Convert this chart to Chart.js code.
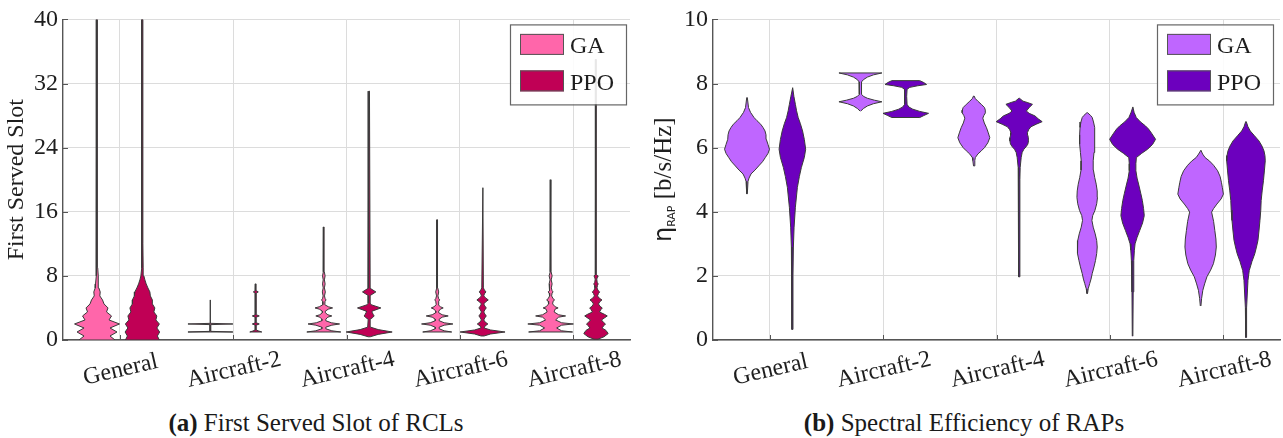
<!DOCTYPE html>
<html>
<head>
<meta charset="utf-8">
<script src="https://cdn.jsdelivr.net/npm/chart.js@4/dist/chart.umd.min.js"></script>
<style>
  html, body { margin: 0; padding: 0; background: #fff; }
  body { width: 1283px; height: 438px; position: relative; overflow: hidden; font-family: "Liberation Serif", serif; }
  .panel { position: absolute; top: 0; height: 400px; }
  #p1 { left: 0; width: 641px; }
  #p2 { left: 641px; width: 642px; }
  .cap { position: absolute; top: 408px; font-size: 25px; line-height: 30px; color: #1a1a1a; white-space: nowrap; transform: translateX(-50%); }
  .cap b { font-weight: bold; }
</style>
</head>
<body>
<div class="panel" id="p1"><canvas id="c1" width="641" height="400"></canvas></div>
<div class="panel" id="p2"><canvas id="c2" width="642" height="400"></canvas></div>
<div class="cap" style="left:316px"><b>(a)</b> First Served Slot of RCLs</div>
<div class="cap" style="left:964px"><b>(b)</b> Spectral Efficiency of RAPs</div>

<script>
// ---- data -----------------------------------------------------------------
const categories = ['General', 'Aircraft-2', 'Aircraft-4', 'Aircraft-6', 'Aircraft-8'];
const seriesNames = ['GA', 'PPO'];
const slotTicks = [0, 8, 16, 24, 32, 40];
const effTicks = [0, 2, 4, 6, 8, 10];

// First served slot: violin profiles as [slot, kernel density (scaled)]
const slotGaGeneral = [[0,18],[0.5,13],[1,20],[1.5,13],[2,22.5],[2.5,12],[3,14.5],[3.5,9.5],[4,11],[4.5,7],[5,5.5],[5.5,2.8],[6,3.2],[6.5,1.8],[7,1.5],[8,1],[9,0.7],[10,0.5],[40,0.3]];
const slotGaAc2 = [[1,22.5],[1.08,0.4],[1.92,0.4],[2,22.5],[2.08,0.4],[5,0.3]];
const slotGaAc4 = [[1,17],[1.15,8],[1.4,2],[1.6,2],[1.85,8],[2,15.8],[2.15,7.5],[2.4,2],[2.6,2],[2.85,4],[3,8],[3.15,4],[3.4,1.5],[3.6,1.5],[3.85,4.5],[4,8.8],[4.15,4.5],[4.4,1],[4.8,1.2],[5,2.2],[5.2,1.2],[5.5,0.7],[6,1.5],[6.5,0.6],[7,1.3],[7.5,0.6],[8,1.3],[8.5,0.5],[14.1,0.3]];
const slotGaAc6 = [[1,14.5],[1.15,7],[1.4,2],[1.6,2],[1.85,7],[2,15.7],[2.15,7],[2.4,2],[2.6,2],[2.85,5],[3,11],[3.15,5],[3.4,1.5],[3.6,1.5],[3.85,3.2],[4,6],[4.15,3.2],[4.4,1],[4.85,1.5],[5,2.5],[5.15,1.5],[5.5,0.7],[6,1.5],[6.5,0.5],[15,0.3]];
const slotGaAc8 = [[1,22],[1.15,11],[1.5,6],[1.85,11],[2,22.8],[2.15,11],[2.5,5],[2.85,8],[3,15],[3.15,8],[3.5,3.5],[3.85,4.5],[4,7.5],[4.15,4.5],[4.5,2],[4.85,2.5],[5,4],[5.15,2.5],[5.5,1],[5.85,1.5],[6,2.5],[6.15,1.5],[6.5,0.7],[7,1.5],[7.5,0.6],[8,1.5],[8.5,0.5],[20,0.3]];

const slotPpoGeneral = [[0,17],[0.5,15],[1,17.3],[1.5,14.5],[2,17],[2.5,13.5],[3,14.5],[3.5,11.5],[4,12.5],[4.5,10],[5,10],[5.5,8],[6,7.5],[6.5,5.5],[7,3.8],[7.5,2.5],[8,1.5],[9,0.8],[12,0.5],[40,0.5]];
const slotPpoAc2 = [[1,6],[1.12,3],[1.25,0.5],[1.85,0.5],[2,3.5],[2.15,0.5],[2.85,0.5],[3,3.5],[3.15,0.5],[5.85,0.5],[6,2.5],[6.15,0.5],[7,0.3]];
const slotPpoAc4 = [[0.4,1],[0.7,9],[1,23],[1.3,9],[1.6,1.5],[2.6,1],[2.8,3.5],[3,5],[3.2,4],[3.5,2.7],[3.6,3],[4,11.7],[4.4,2],[4.6,1],[5.55,1],[6,6.7],[6.45,1],[31.05,0.3]];
const slotPpoAc6 = [[0.5,1.5],[0.75,8],[1,22.5],[1.25,8],[1.5,1.5],[1.75,2.5],[2,5.3],[2.25,2.5],[2.5,1.2],[2.75,2.2],[3,3.7],[3.25,2.2],[3.5,1.2],[3.75,2.2],[4,3.7],[4.25,2.2],[4.5,1.2],[4.75,3],[5,5.7],[5.25,3],[5.5,1.2],[5.75,1.8],[6,3.3],[6.25,1.8],[6.5,0.8],[19,0.3]];
const slotPpoAc8 = [[0.1,2],[0.4,8],[0.8,12.2],[1.2,10],[1.5,6],[1.8,8],[2,9.5],[2.2,7.5],[2.5,5.5],[2.8,9],[3,11.3],[3.2,8.5],[3.5,3.5],[3.8,5],[4,6.3],[4.2,4],[4.5,2.5],[4.8,4],[5,6],[5.2,3.5],[5.5,1.5],[5.8,2.5],[6,3.7],[6.2,2],[6.5,1],[6.8,1.5],[7,2.2],[7.2,1.2],[7.6,0.8],[7.85,1.5],[8,2],[8.15,0.8],[8.5,0.4],[35,0.3]];

// Spectral efficiency of RAPs: violin profiles as [b/s/Hz, kernel density (scaled)]
const effGaGeneral = [[4.56,0.3],[4.95,1],[5.05,2],[5.18,4],[5.3,8],[5.43,11.7],[5.56,15.5],[5.69,18.3],[5.82,21],[5.95,22.5],[6.1,21],[6.26,19.3],[6.4,19],[6.52,18],[6.63,16],[6.73,13.7],[6.84,10],[6.94,7],[7.1,3.5],[7.25,1.5],[7.56,0.3]];
const effGaAc2 = [[7.14,0.3],[7.22,3],[7.3,7],[7.37,13],[7.43,21.5],[7.48,14],[7.54,7],[7.6,3],[7.66,1.3],[7.85,0.9],[8.05,1.3],[8.12,3],[8.2,7],[8.27,13],[8.33,21.5]];
const effGaAc4 = [[5.43,0.3],[5.6,1],[5.69,1.5],[5.8,4],[5.9,7.5],[6.0,10.7],[6.15,14],[6.31,16],[6.46,14.5],[6.62,12.7],[6.77,10.5],[6.92,9],[7.0,10],[7.09,11.7],[7.17,11.5],[7.25,10.7],[7.35,7.5],[7.45,4],[7.53,1.5],[7.61,0.3]];
const effGaAc6 = [[1.45,0.3],[1.6,1],[1.76,2.5],[1.9,3.8],[2.07,5],[2.28,6.8],[2.48,8.3],[2.7,9.5],[2.9,10],[3.1,9.5],[3.31,8],[3.52,6],[3.73,4.7],[3.88,5.5],[4.04,7.7],[4.25,9.5],[4.45,10.3],[4.65,10],[4.86,9],[5.07,7.5],[5.3,6.2],[5.59,6],[5.85,6.8],[6.11,7.6],[6.4,7.6],[6.63,7.2],[6.8,6.3],[6.94,5],[7.0,3.5],[7.09,0.3]];
const effGaAc8 = [[1.06,0.3],[1.3,1],[1.55,2.2],[1.75,4],[1.97,6.3],[2.18,10],[2.38,12.8],[2.65,14.8],[2.9,15.7],[3.15,15.3],[3.42,14.2],[3.7,13],[3.99,11],[4.1,13],[4.24,16.3],[4.4,20.5],[4.55,22.8],[4.75,21.8],[4.92,20.8],[5.1,19.5],[5.28,17],[5.45,13],[5.58,9],[5.69,4.5],[5.8,2],[5.92,0.3]];

const effPpoGeneral = [[0.33,0.4],[2.0,0.6],[2.9,1],[3.52,1.7],[4.14,3],[4.76,5],[5.1,7],[5.38,9],[5.7,12],[5.95,13.3],[6.25,12],[6.52,10.2],[6.75,8],[6.94,5.8],[7.15,4.2],[7.35,3],[7.6,1.5],[7.87,0.3]];
const effPpoAc2 = [[6.94,14],[7.0,18],[7.07,22.8],[7.13,14],[7.2,7],[7.27,3],[7.35,1.3],[7.6,0.9],[7.82,1.3],[7.88,4],[7.93,12],[7.97,20.8],[8.03,18],[8.09,14]];
const effPpoAc4 = [[1.97,0.3],[4.0,0.6],[5.0,0.8],[5.38,1],[5.69,2],[5.85,3],[5.95,4.7],[6.03,7],[6.11,8.7],[6.21,9.3],[6.31,9.2],[6.39,8.6],[6.47,8.3],[6.56,9.5],[6.65,11.7],[6.73,17],[6.81,23],[6.9,19],[6.99,15.8],[7.07,10],[7.14,7.2],[7.25,10],[7.35,13.3],[7.41,8],[7.45,3.8],[7.54,0.3]];
const effPpoAc6 = [[0.12,0.3],[1.5,0.6],[2.48,1.2],[2.8,1.8],[3.0,2.5],[3.2,4.5],[3.42,7.2],[3.65,10],[3.88,11.7],[4.1,11],[4.35,9.8],[4.56,8.3],[4.8,6.5],[5.05,4.5],[5.28,3.3],[5.5,3.3],[5.69,3.8],[5.82,9],[5.95,15],[6.1,20],[6.26,23],[6.45,19],[6.58,16],[6.68,12.8],[6.8,8],[6.94,3.7],[7.1,1.5],[7.27,0.3]];
const effPpoAc8 = [[0.08,0.3],[1.0,0.6],[1.86,2],[2.17,3.3],[2.45,6],[2.69,8.8],[2.9,10.5],[3.11,12],[3.4,13],[3.73,14],[4.05,14.8],[4.35,15.2],[4.65,16.2],[4.97,17.5],[5.3,18.5],[5.59,19.3],[5.75,19],[5.9,18],[6.05,16],[6.21,13],[6.37,8.5],[6.52,4.3],[6.65,2],[6.81,0.3]];

const slotGa = [slotGaGeneral, slotGaAc2, slotGaAc4, slotGaAc6, slotGaAc8];
const slotPpo = [slotPpoGeneral, slotPpoAc2, slotPpoAc4, slotPpoAc6, slotPpoAc8];
const effGa = [effGaGeneral, effGaAc2, effGaAc4, effGaAc6, effGaAc8];
const effPpo = [effPpoGeneral, effPpoAc2, effPpoAc4, effPpoAc6, effPpoAc8];

// ---- styling ---------------------------------------------------------------
const SERIES_OFFSET = [-0.2, 0.2];          // GA left of the category, PPO right
const DENSITY_TO_X = 0.2 / 22.7;            // widest violin spans ±0.2 category
const AXIS_COLOR = '#555555';
const GRID_COLOR = '#dcdcdc';
const TEXT_COLOR = '#1e1e1e';
const OUTLINE = '#3a3a3a';
const SERIF = '"Liberation Serif", serif';

// Closed outline of one violin: right edge upward, left edge back down.
function violinPoints(profile, center) {
  const right = profile.map(([v, d]) => ({ x: center + d * DENSITY_TO_X, y: v }));
  const left = profile.slice().reverse().map(([v, d]) => ({ x: center - d * DENSITY_TO_X, y: v }));
  return right.concat(left, [right[0]]);
}

function buildDatasets(groups, colors) {
  const ds = [];
  groups.forEach((profiles, s) => {
    profiles.forEach((profile, i) => {
      ds.push({
        label: seriesNames[s],
        data: violinPoints(profile, i + 1 + SERIES_OFFSET[s]),
        backgroundColor: colors[s],
        borderColor: OUTLINE,
        borderWidth: 1,
        fill: 'shape',
        tension: 0,
        pointRadius: 0,
        pointHoverRadius: 0,
        pointHitRadius: 0
      });
    });
  });
  return ds;
}

// Inward ticks, rotated category labels, axis title and the boxed legend.
function makeDecor(colors, legendInset, drawTitle) {
  return {
    id: 'decor',
    afterDraw(chart) {
      const { ctx, chartArea: a, scales: { x, y } } = chart;
      ctx.save();

      ctx.strokeStyle = AXIS_COLOR;
      ctx.lineWidth = 1;
      ctx.beginPath();
      y.ticks.forEach(t => {
        const py = Math.round(y.getPixelForValue(t.value)) + 0.5;
        ctx.moveTo(a.left, py); ctx.lineTo(a.left + 5, py);
      });
      x.ticks.forEach(t => {
        const px = Math.round(x.getPixelForValue(t.value)) + 0.5;
        ctx.moveTo(px, a.bottom); ctx.lineTo(px, a.bottom - 5);
      });
      ctx.stroke();

      ctx.fillStyle = TEXT_COLOR;
      ctx.font = '24px ' + SERIF;
      ctx.textAlign = 'center';
      ctx.textBaseline = 'middle';
      categories.forEach((c, i) => {
        const px = x.getPixelForValue(i + 1);
        ctx.save();
        ctx.translate(px + 1, a.bottom + 30);
        ctx.rotate(-13 * Math.PI / 180);
        ctx.fillText(c, 0, 0);
        ctx.restore();
      });

      drawTitle(ctx, a);

      const lw = 116, lh = 80;
      const lx = a.right - legendInset - lw, ly = a.top + 5;
      ctx.fillStyle = 'rgba(255,255,255,0.88)';
      ctx.fillRect(lx, ly, lw, lh);
      ctx.strokeStyle = '#666666';
      ctx.lineWidth = 1.2;
      ctx.strokeRect(lx + 0.5, ly + 0.5, lw, lh);
      seriesNames.forEach((n, s) => {
        const sy = ly + 9.5 + s * 36.5;
        ctx.fillStyle = colors[s];
        ctx.fillRect(lx + 10, sy, 44, 21);
        ctx.strokeStyle = '#555555';
        ctx.lineWidth = 1;
        ctx.strokeRect(lx + 10.5, sy + 0.5, 43, 20);
        ctx.fillStyle = TEXT_COLOR;
        ctx.font = '24px ' + SERIF;
        ctx.textAlign = 'left';
        ctx.textBaseline = 'alphabetic';
        ctx.fillText(n, lx + 60, sy + 19.5);
      });
      ctx.restore();
    }
  };
}

function makeChart(canvasId, cfg) {
  const ctx = document.getElementById(canvasId).getContext('2d');
  return new Chart(ctx, {
    type: 'line',
    data: { datasets: buildDatasets(cfg.groups, cfg.colors) },
    options: {
      responsive: false,
      animation: false,
      events: [],
      layout: { padding: { top: 18, right: cfg.padRight, bottom: 0, left: 0 } },
      plugins: { legend: { display: false }, tooltip: { enabled: false } },
      scales: {
        x: {
          type: 'linear',
          min: 0.5,
          max: categories.length + 0.5,
          afterBuildTicks: s => { s.ticks = categories.map((_, i) => ({ value: i + 1 })); },
          afterFit: s => { s.height = 60; },
          ticks: { display: false },
          grid: { color: GRID_COLOR, lineWidth: 1, drawTicks: false },
          border: { color: AXIS_COLOR, width: 1.4 }
        },
        y: {
          type: 'linear',
          min: cfg.ticks[0],
          max: cfg.ticks[cfg.ticks.length - 1],
          afterBuildTicks: s => { s.ticks = cfg.ticks.map(v => ({ value: v })); },
          afterFit: s => { s.width = cfg.axisWidth; },
          ticks: { font: { family: SERIF, size: 24 }, color: TEXT_COLOR, padding: 5 },
          grid: { color: GRID_COLOR, lineWidth: 1, drawTicks: false },
          border: { color: AXIS_COLOR, width: 1.4 }
        }
      }
    },
    plugins: [makeDecor(cfg.colors, cfg.legendInset, cfg.title)]
  });
}

makeChart('c1', {
  groups: [slotGa, slotPpo],
  colors: ['#ff66aa', '#c00055'],
  ticks: slotTicks,
  axisWidth: 63,
  padRight: 11,
  legendInset: 4,
  title(ctx, a) {
    ctx.save();
    ctx.translate(16.5, (a.top + a.bottom) / 2);
    ctx.rotate(-Math.PI / 2);
    ctx.fillStyle = TEXT_COLOR;
    ctx.font = '24px ' + SERIF;
    ctx.textAlign = 'center';
    ctx.textBaseline = 'middle';
    ctx.fillText('First Served Slot', 0, 0);
    ctx.restore();
  }
});

makeChart('c2', {
  groups: [effGa, effPpo],
  colors: ['#bf66ff', '#6c00be'],
  ticks: effTicks,
  axisWidth: 72,
  padRight: 3,
  legendInset: 7,
  title(ctx, a) {
    const parts = [
      { t: 'η', f: '24px "DejaVu Sans", sans-serif', dy: 0 },
      { t: 'RAP', f: '11px "DejaVu Sans", sans-serif', dy: 4 },
      { t: ' [b/s/Hz]', f: '25px ' + SERIF, dy: 0 }
    ];
    ctx.save();
    ctx.translate(30, (a.top + a.bottom) / 2);
    ctx.rotate(-Math.PI / 2);
    ctx.fillStyle = TEXT_COLOR;
    ctx.textAlign = 'left';
    ctx.textBaseline = 'alphabetic';
    let total = 0;
    parts.forEach(p => { ctx.font = p.f; p.w = ctx.measureText(p.t).width; total += p.w; });
    let cx = -total / 2;
    parts.forEach(p => { ctx.font = p.f; ctx.fillText(p.t, cx, p.dy); cx += p.w; });
    ctx.restore();
  }
});
</script>
</body>
</html>
